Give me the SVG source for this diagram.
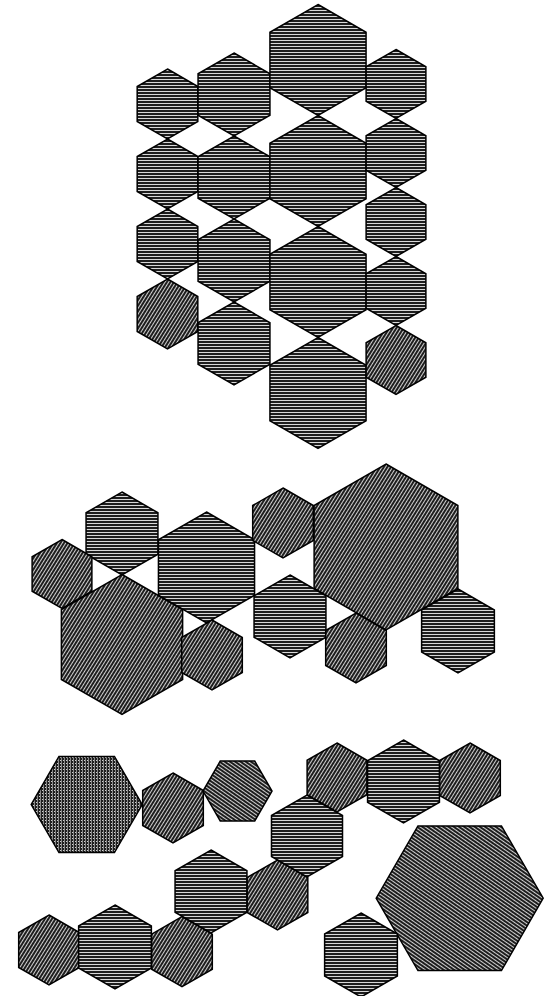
<svg xmlns="http://www.w3.org/2000/svg" width="553" height="996" viewBox="0 0 553 996">
<defs>
<pattern id="ph" width="6" height="3" patternUnits="userSpaceOnUse">
<rect width="6" height="3" fill="#1e1e1e"/>
<rect x="0" y="1" width="6" height="1" fill="#d8d8d8"/>
</pattern>
<pattern id="pd" width="6" height="3" patternUnits="userSpaceOnUse" patternTransform="rotate(-58)">
<rect width="6" height="3" fill="#1e1e1e"/>
<rect x="0" y="1" width="6" height="1" fill="#d0d0d0"/>
</pattern>
<pattern id="pb" width="6" height="3" patternUnits="userSpaceOnUse" patternTransform="rotate(35)">
<rect width="6" height="3" fill="#1e1e1e"/>
<rect x="0" y="1" width="6" height="1" fill="#d0d0d0"/>
</pattern>
<pattern id="pc" width="3" height="3" patternUnits="userSpaceOnUse">
<rect width="3" height="3" fill="#1e1e1e"/>
<rect x="0" y="1" width="2" height="1" fill="#cfcfcf"/>
<rect x="1" y="0" width="1" height="3" fill="#8a8a8a"/>
</pattern>
</defs>
<style>
polygon{stroke:#000;stroke-width:1.5;stroke-linejoin:miter}
.h{fill:url(#ph)}
.d{fill:url(#pd)}
.b{fill:url(#pb)}
.c{fill:url(#pc)}
</style>
<rect width="553" height="996" fill="#fff"/>
<g id="section1">
<g id="a1"><polygon class="h" points="167.5,69 197.81,86.5 197.81,121.5 167.5,139 137.19,121.5 137.19,86.5"/></g>
<g id="a2"><polygon class="h" points="167.5,139 197.81,156.5 197.81,191.5 167.5,209 137.19,191.5 137.19,156.5"/></g>
<g id="a3"><polygon class="h" points="167.5,209 197.81,226.5 197.81,261.5 167.5,279 137.19,261.5 137.19,226.5"/></g>
<g id="a4"><polygon class="d" points="167.5,279 197.81,296.5 197.81,331.5 167.5,349 137.19,331.5 137.19,296.5"/></g>
<g id="b1"><polygon class="h" points="234,53 269.94,73.75 269.94,115.25 234,136 198.06,115.25 198.06,73.75"/></g>
<g id="b2"><polygon class="h" points="234,136 269.94,156.75 269.94,198.25 234,219 198.06,198.25 198.06,156.75"/></g>
<g id="b3"><polygon class="h" points="234,219 269.94,239.75 269.94,281.25 234,302 198.06,281.25 198.06,239.75"/></g>
<g id="b4"><polygon class="h" points="234,302 269.94,322.75 269.94,364.25 234,385 198.06,364.25 198.06,322.75"/></g>
<g id="c1"><polygon class="h" points="318,4.5 366.06,32.25 366.06,87.75 318,115.5 269.94,87.75 269.94,32.25"/></g>
<g id="c2"><polygon class="h" points="318,115.5 366.06,143.25 366.06,198.75 318,226.5 269.94,198.75 269.94,143.25"/></g>
<g id="c3"><polygon class="h" points="318,226.5 366.06,254.25 366.06,309.75 318,337.5 269.94,309.75 269.94,254.25"/></g>
<g id="c4"><polygon class="h" points="318,337.5 366.06,365.25 366.06,420.75 318,448.5 269.94,420.75 269.94,365.25"/></g>
<g id="d1"><polygon class="h" points="396,49.5 425.88,66.75 425.88,101.25 396,118.5 366.12,101.25 366.12,66.75"/></g>
<g id="d2"><polygon class="h" points="396,118.5 425.88,135.75 425.88,170.25 396,187.5 366.12,170.25 366.12,135.75"/></g>
<g id="d3"><polygon class="h" points="396,187.5 425.88,204.75 425.88,239.25 396,256.5 366.12,239.25 366.12,204.75"/></g>
<g id="d4"><polygon class="h" points="396,256.5 425.88,273.75 425.88,308.25 396,325.5 366.12,308.25 366.12,273.75"/></g>
<g id="d5"><polygon class="d" points="396,325.5 425.88,342.75 425.88,377.25 396,394.5 366.12,377.25 366.12,342.75"/></g>
</g>
<g id="section2">
<g id="p"><polygon class="h" points="122,492 157.94,512.75 157.94,554.25 122,575 86.06,554.25 86.06,512.75"/></g>
<g id="q"><polygon class="d" points="62,539.5 91.88,556.75 91.88,591.25 62,608.5 32.12,591.25 32.12,556.75"/></g>
<g id="r"><polygon class="d" points="122,574.5 182.62,609.5 182.62,679.5 122,714.5 61.38,679.5 61.38,609.5"/></g>
<g id="s"><polygon class="h" points="206.5,512 254.56,539.75 254.56,595.25 206.5,623 158.44,595.25 158.44,539.75"/></g>
<g id="t"><polygon class="d" points="212,620 242.31,637.5 242.31,672.5 212,690 181.69,672.5 181.69,637.5"/></g>
<g id="u"><polygon class="d" points="283,488 313.31,505.5 313.31,540.5 283,558 252.69,540.5 252.69,505.5"/></g>
<g id="v"><polygon class="d" points="386,464 457.88,505.5 457.88,588.5 386,630 314.12,588.5 314.12,505.5"/></g>
<g id="w"><polygon class="h" points="290,575 325.94,595.75 325.94,637.25 290,658 254.06,637.25 254.06,595.75"/></g>
<g id="x"><polygon class="d" points="356,613 386.31,630.5 386.31,665.5 356,683 325.69,665.5 325.69,630.5"/></g>
<g id="y"><polygon class="h" points="458,589 494.37,610 494.37,652 458,673 421.63,652 421.63,610"/></g>
</g>
<g id="section3">
<g id="a3big"><polygon class="c" points="142.2,804.5 114.45,852.56 58.95,852.56 31.2,804.5 58.95,756.44 114.45,756.44"/></g>
<g id="b3s"><polygon class="d" points="173,773 203.31,790.5 203.31,825.5 173,843 142.69,825.5 142.69,790.5"/></g>
<g id="c3s"><polygon class="b" points="272,791 254.75,820.88 220.25,820.88 203,791 220.25,761.12 254.75,761.12"/></g>
<g id="d3s"><polygon class="d" points="49,915 79.31,932.5 79.31,967.5 49,985 18.69,967.5 18.69,932.5"/></g>
<g id="e3s"><polygon class="h" points="115,905 151.37,926 151.37,968 115,989 78.63,968 78.63,926"/></g>
<g id="f3s"><polygon class="d" points="182,916.7 212.31,934.2 212.31,969.2 182,986.7 151.69,969.2 151.69,934.2"/></g>
<g id="g3s"><polygon class="h" points="211,850 246.94,870.75 246.94,912.25 211,933 175.06,912.25 175.06,870.75"/></g>
<g id="h3s"><polygon class="d" points="277.5,860 307.81,877.5 307.81,912.5 277.5,930 247.19,912.5 247.19,877.5"/></g>
<g id="i3s"><polygon class="h" points="307,795 342.51,815.5 342.51,856.5 307,877 271.49,856.5 271.49,815.5"/></g>
<g id="j3s"><polygon class="d" points="337,743 366.88,760.25 366.88,794.75 337,812 307.12,794.75 307.12,760.25"/></g>
<g id="k3s"><polygon class="h" points="403.5,740 439.44,760.75 439.44,802.25 403.5,823 367.56,802.25 367.56,760.75"/></g>
<g id="l3s"><polygon class="d" points="470,743 500.31,760.5 500.31,795.5 470,813 439.69,795.5 439.69,760.5"/></g>
<g id="m3big"><polygon class="b" points="543.2,898.2 501.45,970.51 417.95,970.51 376.2,898.2 417.95,825.89 501.45,825.89"/></g>
<g id="n3s"><polygon class="h" points="361,913 397.37,934 397.37,976 361,997 324.63,976 324.63,934"/></g>
</g>
</svg>
